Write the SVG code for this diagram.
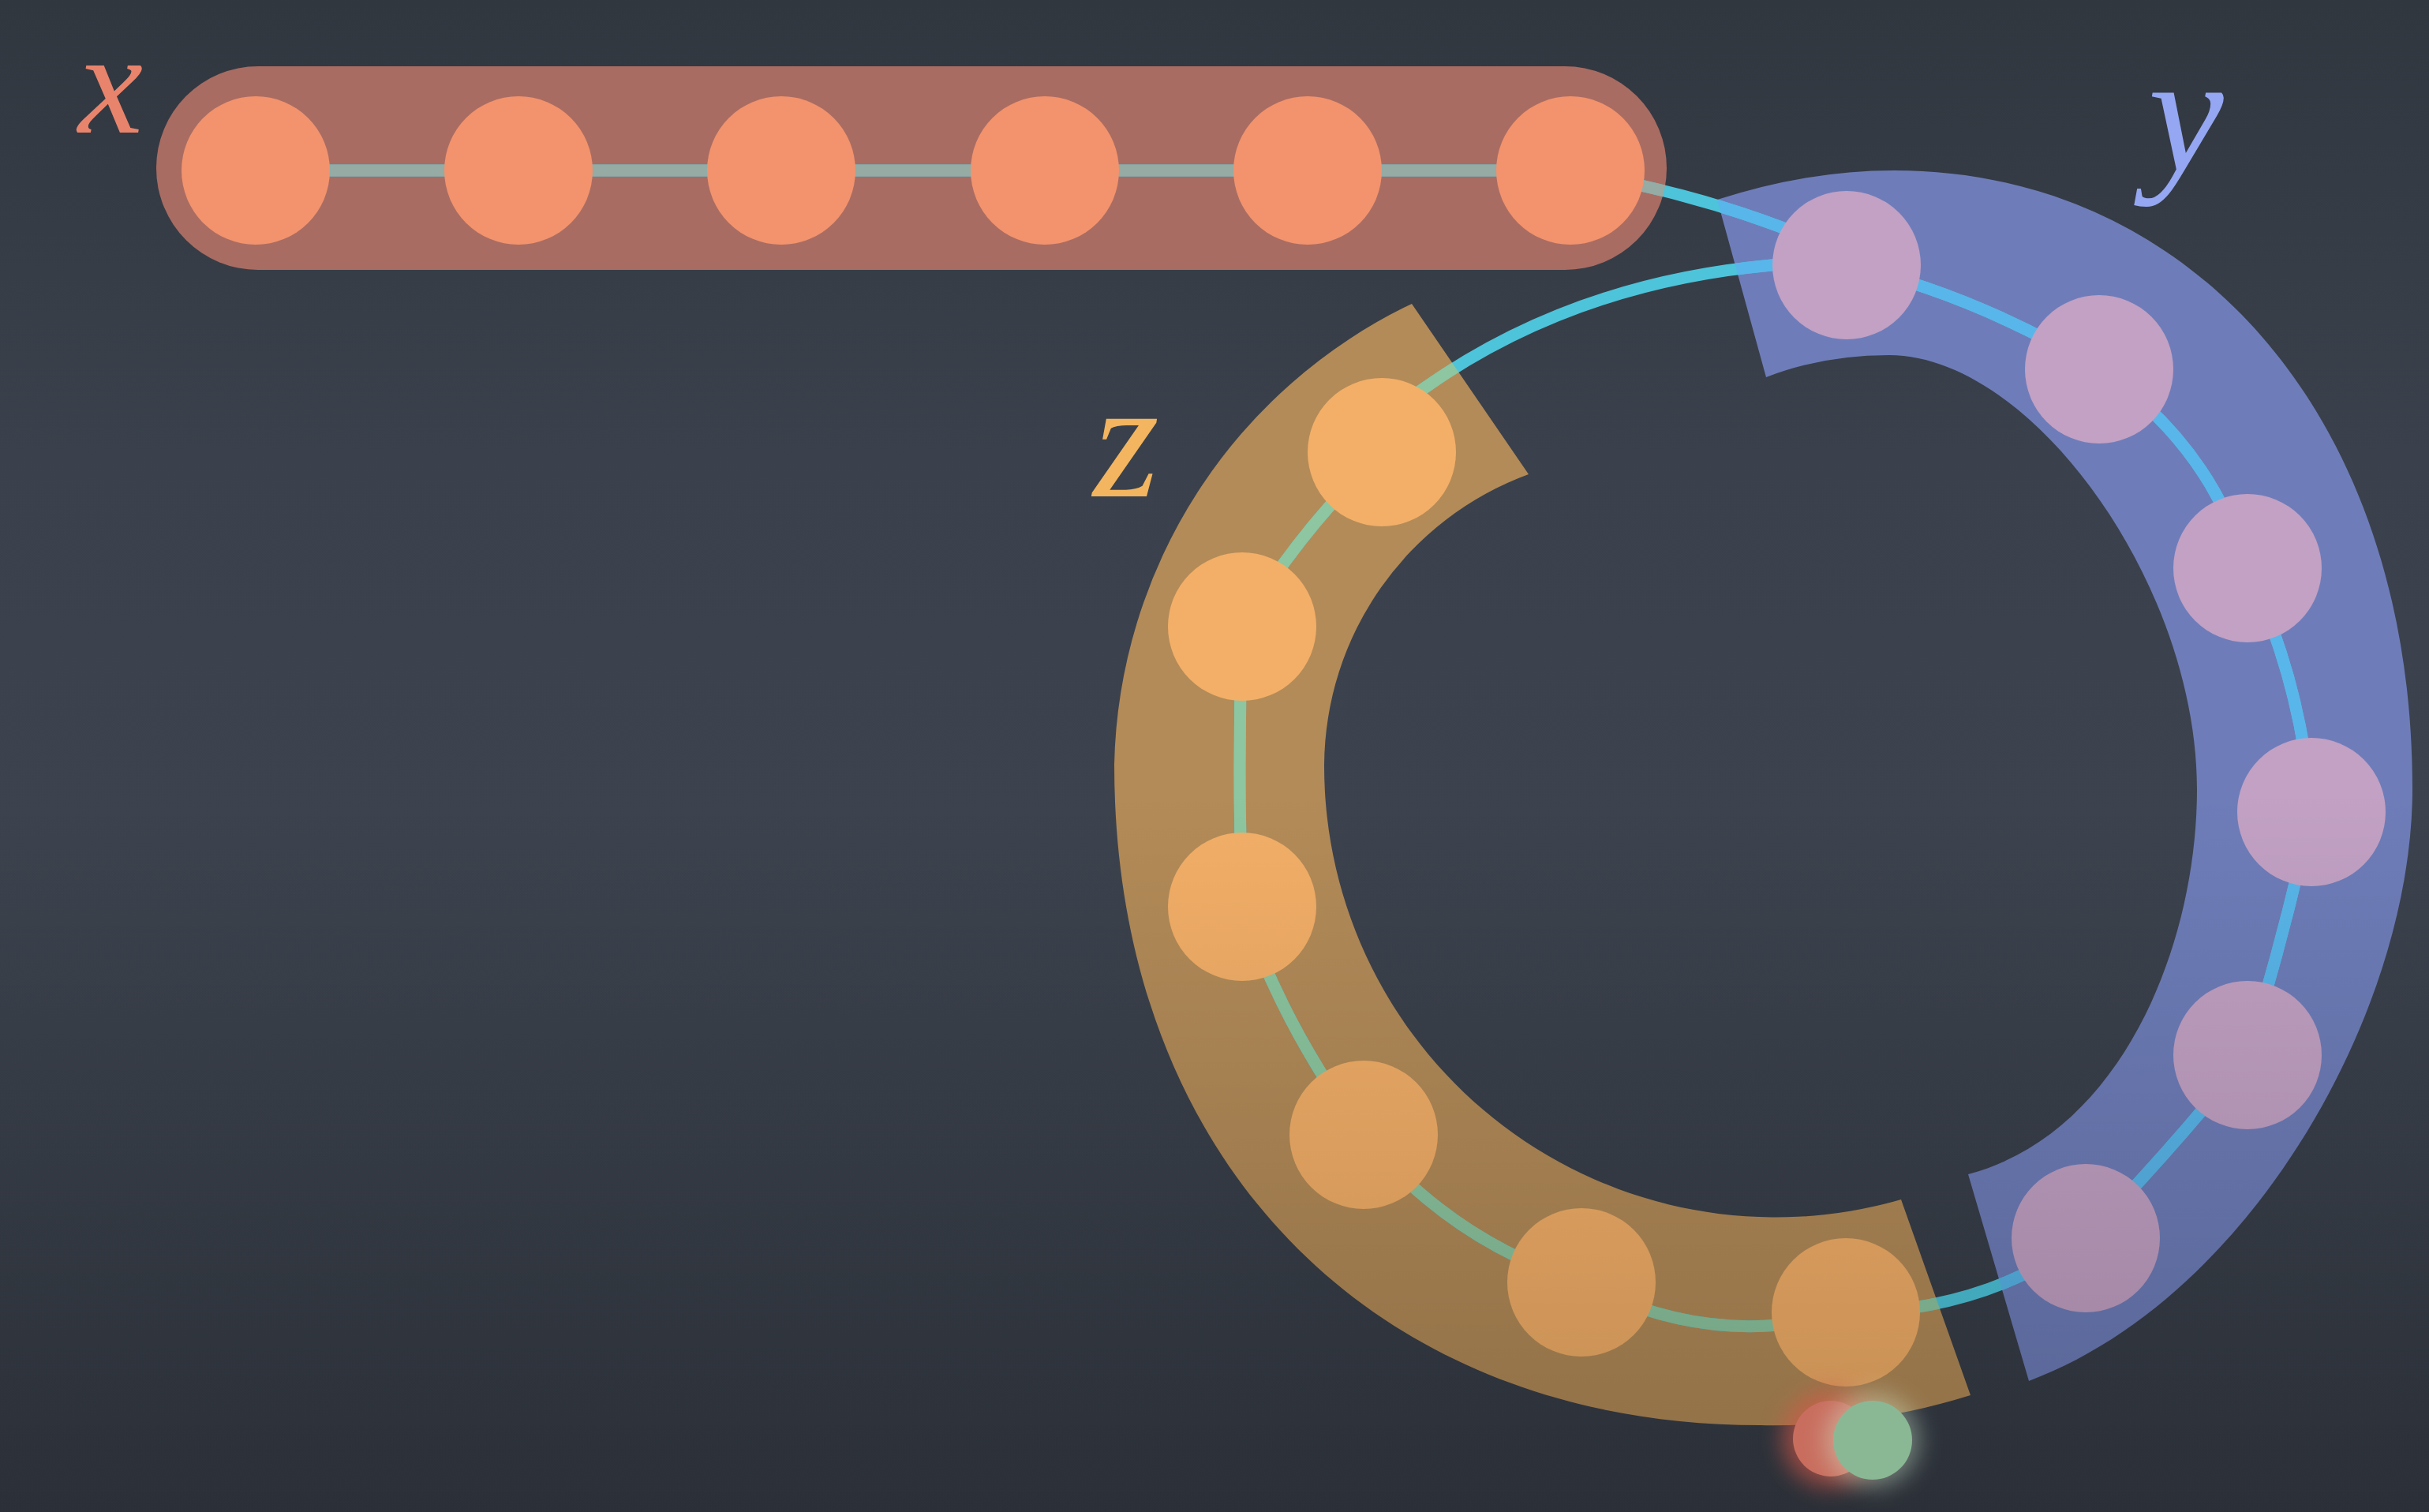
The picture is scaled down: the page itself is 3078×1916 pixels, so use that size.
<svg xmlns="http://www.w3.org/2000/svg" width="3078" height="1916" viewBox="0 0 3078 1916">
<style>
.bx{fill:#a96c62}
.by{fill:#6e7db9}
.bz{fill:#b38b58}
.nx{fill:#f2936d}
.ny{fill:#c2a1c4}
.nz{fill:#f3af68}
.wire{fill:none;stroke-width:15;stroke-linejoin:round;stroke-linecap:butt}
.w-cyan{stroke:#4dc4da}
.w-blue{stroke:#59b6ea}
.w-green{stroke:#8dc6a0}
.w-gray{stroke:#95aba3}
.lbl{font-family:"Liberation Serif","DejaVu Serif",serif;font-style:italic;text-anchor:middle}
</style>
<defs>
<linearGradient id="bg" x1="0" y1="0" x2="0" y2="1916" gradientUnits="userSpaceOnUse">
<stop offset="0" stop-color="#31373f"/>
<stop offset="0.3" stop-color="#3a414c"/>
<stop offset="0.55" stop-color="#3c434e"/>
<stop offset="1" stop-color="#363c46"/>
</linearGradient>
<linearGradient id="shade" x1="0" y1="1000" x2="0" y2="1916" gradientUnits="userSpaceOnUse">
<stop offset="0" stop-color="#000" stop-opacity="0"/>
<stop offset="1" stop-color="#000" stop-opacity="0.2"/>
</linearGradient>
<clipPath id="clipX"><use href="#xbandShape"/></clipPath>
<clipPath id="clipY"><use href="#ybandShape"/></clipPath>
<clipPath id="clipZ"><use href="#zbandShape"/></clipPath>
<filter id="blur" x="-100%" y="-100%" width="300%" height="300%"><feGaussianBlur stdDeviation="14"/></filter>
</defs>

<rect x="0" y="0" width="3078" height="1916" fill="url(#bg)"/>

<g id="x-band">
<rect id="xbandShape" class="bx" x="198" y="84" width="1914" height="258" rx="129"/>
</g>

<g id="y-band">
<path id="ybandShape" class="by" d="M2176,253 Q2290,216 2400,216 C2775,216 3057,525 3057,1000 C3057,1280 2852,1645 2571,1750 L2494,1488 C2687,1437 2784,1200 2784,1000 C2784,740 2574,450 2394,450 Q2310,450 2238,478 Z"/>
</g>

<g id="z-band">
<path id="zbandShape" class="bz" d="M1789,385 A662,662 0 0 0 1412,969 C1412,1469 1740,1806 2230,1806 A837,837 0 0 0 2497,1768 L2409,1520 A572,572 0 0 1 1678,969 A395,395 0 0 1 1937,601 Z"/>
</g>

<g class="wire w-cyan">
<g id="connectors">
<path d="M324,216 H1990"/>
<path d="M1990,216 C2070,232 2180,254 2300,305"/>
<path d="M1773,514 L1806,491 Q1994.5,358.5 2245,336 L2285,332"/>
<path d="M2340,336 Q2500,372 2660,468 Q2798,560 2848,720 Q2917.5,867 2929,1029 Q2895,1185 2848,1337 Q2751.5,1458 2643,1569 Q2509,1664 2339,1663 Q2168.5,1712 2004,1625 Q1838,1572.5 1728,1438 Q1628,1305.7 1574,1149 Q1568,971.5 1574,794 Q1647,671 1751,573"/>
</g>
</g>
<use href="#connectors" class="wire w-gray" clip-path="url(#clipX)"/>
<use href="#connectors" class="wire w-blue" clip-path="url(#clipY)"/>
<use href="#connectors" class="wire w-green" clip-path="url(#clipZ)"/>

<g id="x1"><circle class="nx" cx="324" cy="216" r="94"/></g>
<g id="x2"><circle class="nx" cx="657" cy="216" r="94"/></g>
<g id="x3"><circle class="nx" cx="990" cy="216" r="94"/></g>
<g id="x4"><circle class="nx" cx="1324" cy="216" r="94"/></g>
<g id="x5"><circle class="nx" cx="1657" cy="216" r="94"/></g>
<g id="x6"><circle class="nx" cx="1990" cy="216" r="94"/></g>

<g id="y1"><circle class="ny" cx="2340" cy="336" r="94"/></g>
<g id="y2"><circle class="ny" cx="2660" cy="468" r="94"/></g>
<g id="y3"><circle class="ny" cx="2848" cy="720" r="94"/></g>
<g id="y4"><circle class="ny" cx="2929" cy="1029" r="94"/></g>
<g id="y5"><circle class="ny" cx="2848" cy="1337" r="94"/></g>
<g id="y6"><circle class="ny" cx="2643" cy="1569" r="94"/></g>

<g id="z1"><circle class="nz" cx="1751" cy="573" r="94"/></g>
<g id="z2"><circle class="nz" cx="1574" cy="794" r="94"/></g>
<g id="z3"><circle class="nz" cx="1574" cy="1149" r="94"/></g>
<g id="z4"><circle class="nz" cx="1728" cy="1438" r="94"/></g>
<g id="z5"><circle class="nz" cx="2004" cy="1625" r="94"/></g>
<g id="z6"><circle class="nz" cx="2339" cy="1663" r="94"/></g>

<g id="label-x"><text class="lbl" x="140" y="168" font-size="185" fill="#e9846c">x</text></g>
<g id="label-y"><text class="lbl" x="2770" y="216" font-size="215" fill="#95a7f2">y</text></g>
<g id="label-z"><text class="lbl" x="1427" y="629" font-size="215" fill="#f3b55f">z</text></g>

<rect x="0" y="1000" width="3078" height="916" fill="url(#shade)"/>

<g id="pointer-red">
<circle cx="2320" cy="1823" r="62" fill="#d85a48" opacity="0.6" filter="url(#blur)"/>
<circle cx="2320" cy="1823" r="48" fill="#c96e5f"/>
</g>
<g id="pointer-green">
<circle cx="2373" cy="1825" r="60" fill="#d6eed0" opacity="0.4" filter="url(#blur)"/>
<circle cx="2373" cy="1825" r="50" fill="#8ab895"/>
</g>
</svg>
